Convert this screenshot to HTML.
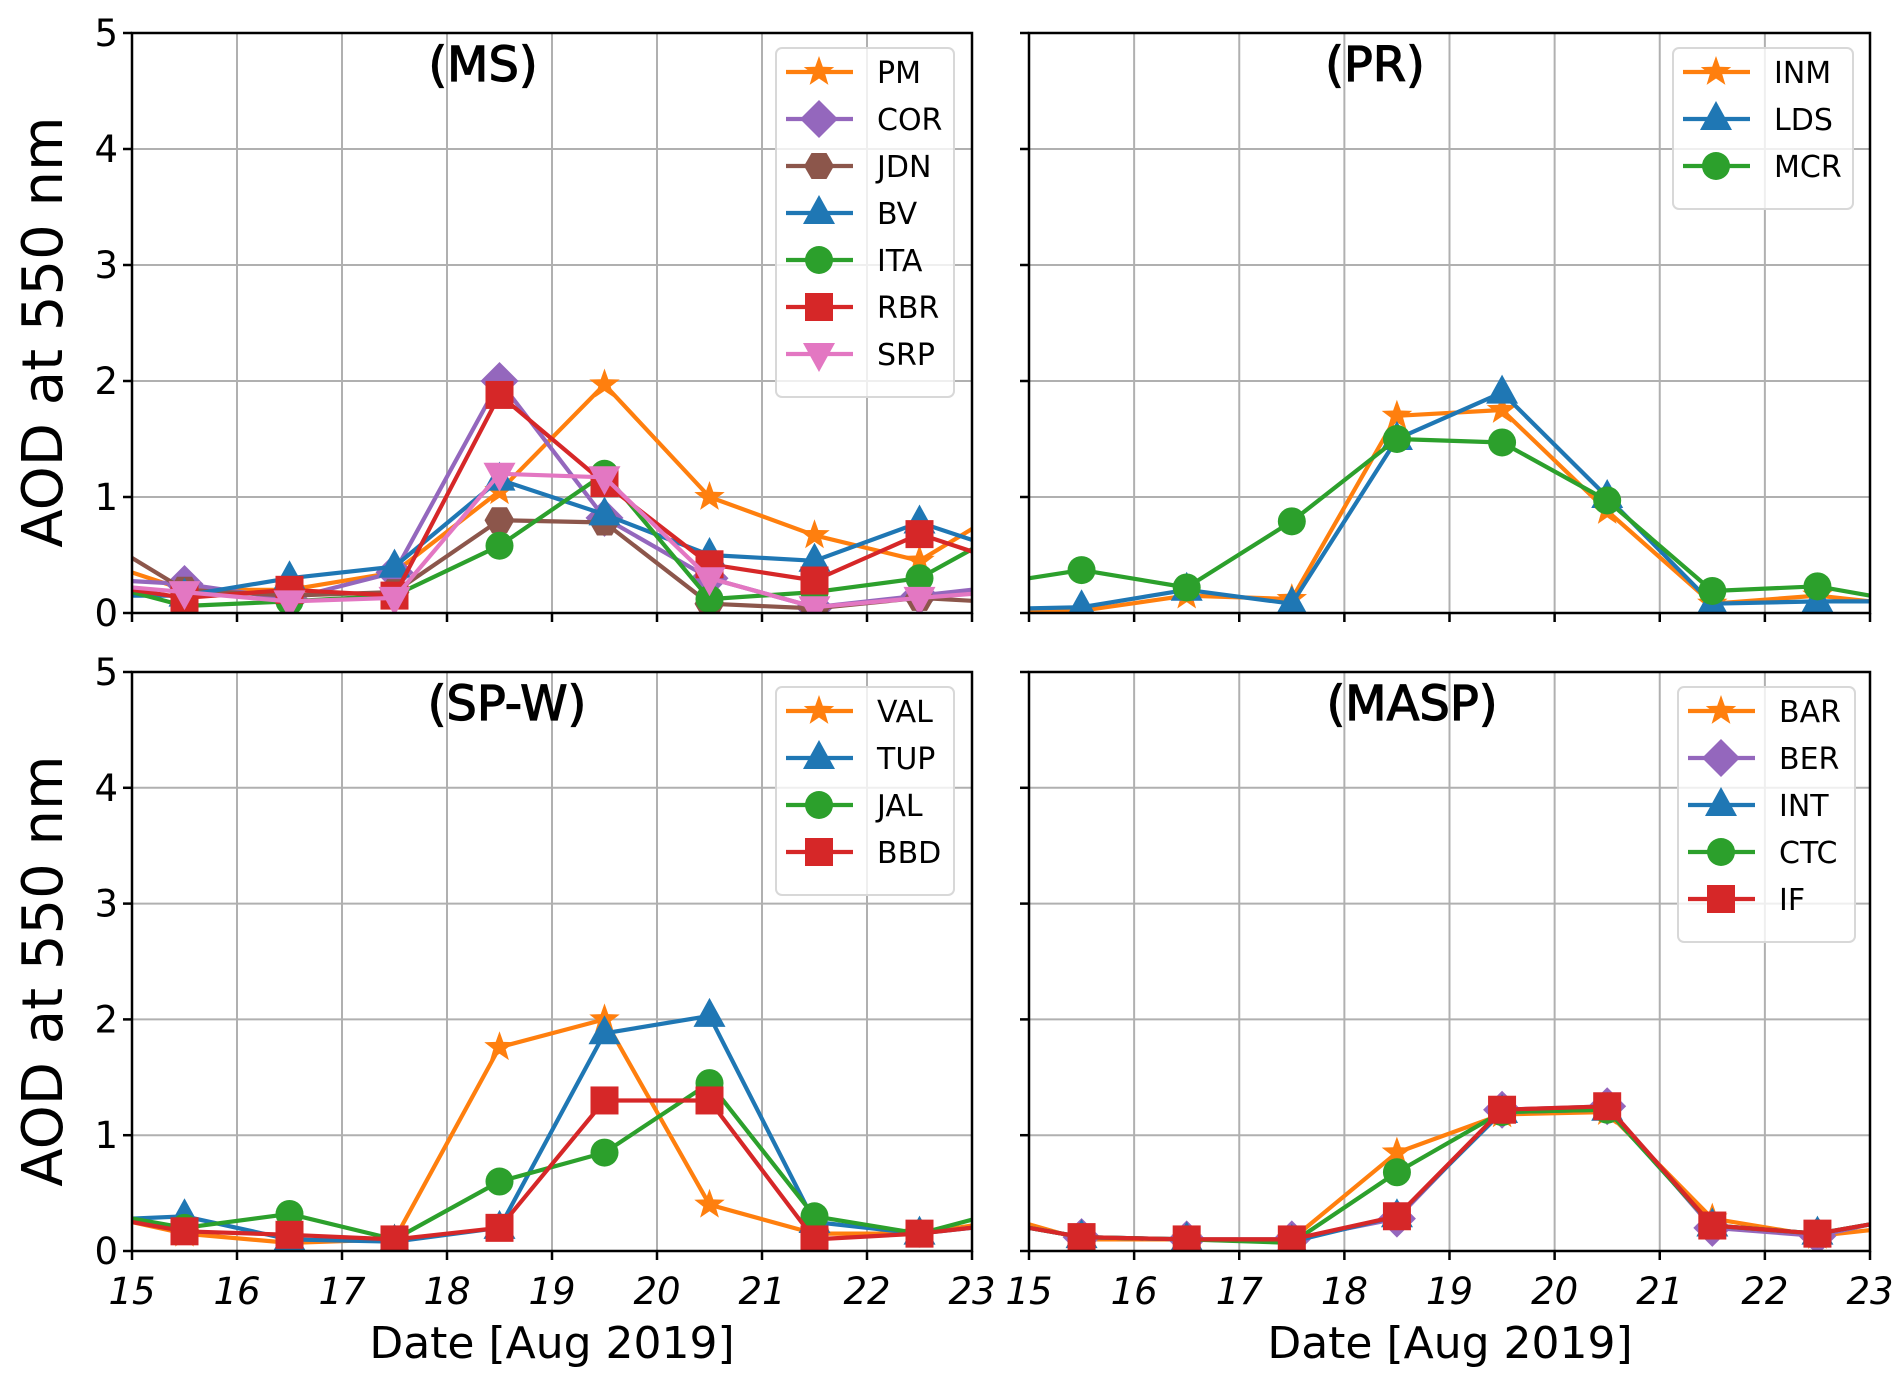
<!DOCTYPE html>
<html><head><meta charset="utf-8"><style>
body{margin:0;background:#fff}
svg text{font-family:"DejaVu Sans","Liberation Sans",sans-serif;fill:#000}
</style></head><body>
<svg id="fig" width="1892" height="1388" viewBox="0 0 1892 1388" xmlns="http://www.w3.org/2000/svg"></svg>
<script>
const days = [14.5,15.5,16.5,17.5,18.5,19.5,20.5,21.5,22.5,23.5];
const xTicks = [15,16,17,18,19,20,21,22,23];
const yTicks = [0,1,2,3,4,5];
// MS
const msPM  = [0.5,0.2,0.2,0.35,1.05,1.97,1.0,0.67,0.45,1.0];
const msCOR = [0.3,0.25,0.12,0.35,2.0,0.82,0.3,0.05,0.15,0.25];
const msJDN = [0.75,0.2,0.15,0.18,0.8,0.78,0.08,0.04,0.13,0.08];
const msBV  = [0.15,0.15,0.3,0.4,1.15,0.85,0.5,0.45,0.78,0.48];
const msITA = [0.3,0.06,0.1,0.15,0.58,1.2,0.12,0.18,0.3,0.8];
const msRBR = [0.27,0.13,0.2,0.15,1.88,1.12,0.42,0.28,0.68,0.38];
const msSRP = [0.26,0.18,0.1,0.13,1.2,1.17,0.3,0.05,0.13,0.2];
// PR
const prINM = [0.0,0.02,0.15,0.12,1.7,1.75,0.88,0.08,0.15,0.05];
const prLDS = [0.03,0.05,0.2,0.08,1.5,1.9,1.0,0.08,0.1,0.1];
const prMCR = [0.23,0.37,0.22,0.79,1.5,1.47,0.97,0.19,0.23,0.07];
// SP-W
const spVAL = [0.35,0.15,0.07,0.1,1.76,2.0,0.4,0.15,0.15,0.29];
const spTUP = [0.26,0.3,0.1,0.08,0.2,1.88,2.03,0.25,0.15,0.25];
const spJAL = [0.36,0.2,0.32,0.1,0.6,0.85,1.45,0.3,0.15,0.39];
const spBBD = [0.33,0.17,0.14,0.1,0.2,1.3,1.3,0.1,0.15,0.25];
// MASP
const maBAR = [0.36,0.1,0.1,0.1,0.85,1.18,1.2,0.28,0.13,0.23];
const maBER = [0.28,0.12,0.1,0.1,0.28,1.22,1.25,0.2,0.13,0.33];
const maINT = [0.28,0.12,0.1,0.08,0.3,1.2,1.22,0.22,0.15,0.31];
const maCTC = [0.28,0.12,0.1,0.07,0.68,1.2,1.22,0.22,0.15,0.31];
const maIF  = [0.28,0.12,0.1,0.1,0.3,1.22,1.25,0.22,0.15,0.31];

const C={orange:'#ff7f0e',blue:'#1f77b4',green:'#2ca02c',red:'#d62728',purple:'#9467bd',brown:'#8c564b',pink:'#e377c2'};
const NS='http://www.w3.org/2000/svg';
const svg=document.getElementById('fig');
function mk(tag,attrs,parent){const e=document.createElementNS(NS,tag);for(const k in attrs)e.setAttribute(k,attrs[k]);(parent||svg).appendChild(e);return e;}

function marker(g,type,cx,cy,color){
  let e;
  if(type==='star'){
    const pts=[];for(let i=0;i<10;i++){const r=i%2?6.5:16;const a=-Math.PI/2+i*Math.PI/5;pts.push((cx+r*Math.cos(a)).toFixed(1)+','+(cy+r*Math.sin(a)).toFixed(1));}
    e=mk('polygon',{points:pts.join(' '),fill:color},g);
  }else if(type==='diamond'){
    e=mk('polygon',{points:`${cx},${cy-19} ${cx+19},${cy} ${cx},${cy+19} ${cx-19},${cy}`,fill:color},g);
  }else if(type==='hex'){
    const pts=[];for(let i=0;i<6;i++){const a=i*Math.PI/3;pts.push((cx+15*Math.cos(a)).toFixed(1)+','+(cy+15*Math.sin(a)).toFixed(1));}
    e=mk('polygon',{points:pts.join(' '),fill:color},g);
  }else if(type==='tri'){
    e=mk('polygon',{points:`${cx},${cy-18} ${cx+16},${cy+11} ${cx-16},${cy+11}`,fill:color},g);
  }else if(type==='vtri'){
    e=mk('polygon',{points:`${cx},${cy+18} ${cx+16},${cy-11} ${cx-16},${cy-11}`,fill:color},g);
  }else if(type==='circle'){
    e=mk('circle',{cx:cx,cy:cy,r:14,fill:color},g);
  }else{
    e=mk('rect',{x:cx-14,y:cy-14,width:28,height:28,fill:color},g);
  }
  return e;
}

function panel(id,x0,y0,x1,y1,title,series,leg,showYLabels,showXLabels){
  const g=mk('g',{});
  
  
  const sx=d=>x0+(d-15)/8*(x1-x0);
  const sy=v=>y1-v/5*(y1-y0);
  const clip=mk('clipPath',{id:'clip-'+id},g);
  mk('rect',{x:x0,y:y0,width:x1-x0,height:y1-y0},clip);
  xTicks.forEach(t=>{
    const l=mk('line',{x1:sx(t),x2:sx(t),y1:y0,y2:y1,stroke:'#b0b0b0','stroke-width':2},g);
    
    
    mk('line',{x1:sx(t),x2:sx(t),y1:y1,y2:y1+9,stroke:'#000','stroke-width':2.5},g);
    if(showXLabels){
      const tx=mk('text',{x:sx(t),y:y1+53,'font-size':37,'text-anchor':'middle','font-style':'italic'},g);
      tx.textContent=t;
      
      
    }
  });
  yTicks.forEach(t=>{
    const l=mk('line',{x1:x0,x2:x1,y1:sy(t),y2:sy(t),stroke:'#b0b0b0','stroke-width':2},g);
    
    
    mk('line',{x1:x0-9,x2:x0,y1:sy(t),y2:sy(t),stroke:'#000','stroke-width':2.5},g);
    if(showYLabels){
      const tx=mk('text',{x:x0-14,y:sy(t)+13,'font-size':37,'text-anchor':'end'},g);
      tx.textContent=t;
      
      
    }
  });
  const dg=mk('g',{'clip-path':'url(#clip-'+id+')'},g);
  series.forEach(s=>{
    const sg=mk('g',{},dg);
    
    
    const pts=days.map((d,i)=>sx(d).toFixed(1)+','+sy(s.vals[i]).toFixed(1)).join(' ');
    mk('polyline',{points:pts,fill:'none',stroke:s.color,'stroke-width':4.2,'stroke-linejoin':'round'},sg);
    days.forEach((d,i)=>{
      const m=marker(sg,s.m,sx(d),sy(s.vals[i]),s.color);
      
      
    });
  });
  mk('rect',{x:x0,y:y0,width:x1-x0,height:y1-y0,fill:'none',stroke:'#000','stroke-width':2.5},g);
  const tt=mk('text',{x:title.x,y:y0+48,'font-size':48,'text-anchor':'middle',stroke:'#000','stroke-width':1.2},g);
  tt.textContent=title.t;
  
  
  const lg=mk('g',{},g);
  
  
  const h=series.length*47+20;
  mk('rect',{x:leg.x,y:y0+15,width:leg.w,height:h,rx:6,fill:'rgba(255,255,255,0.8)',stroke:'#d8d8d8','stroke-width':2},lg);
  series.forEach((s,i)=>{
    const cy=y0+39+i*47;
    const eg=mk('g',{},lg);
    
    
    mk('line',{x1:leg.x+10,x2:leg.x+77,y1:cy,y2:cy,stroke:s.color,'stroke-width':4.2},eg);
    marker(eg,s.m,leg.x+43,cy,s.color);
    const t=mk('text',{x:leg.x+101,y:cy+11,'font-size':30},eg);
    t.textContent=s.name;
  });
}

const L0=132,L1=972,R0=1029,R1=1870,T0=33,T1=613,B0=672,B1=1251;
panel('ms',L0,T0,L1,T1,{t:'(MS)',x:483},[
 {name:'PM',vals:msPM,color:C.orange,m:'star'},
 {name:'COR',vals:msCOR,color:C.purple,m:'diamond'},
 {name:'JDN',vals:msJDN,color:C.brown,m:'hex'},
 {name:'BV',vals:msBV,color:C.blue,m:'tri'},
 {name:'ITA',vals:msITA,color:C.green,m:'circle'},
 {name:'RBR',vals:msRBR,color:C.red,m:'square'},
 {name:'SRP',vals:msSRP,color:C.pink,m:'vtri'}],{x:776,w:178},true,false);
panel('pr',R0,T0,R1,T1,{t:'(PR)',x:1375},[
 {name:'INM',vals:prINM,color:C.orange,m:'star'},
 {name:'LDS',vals:prLDS,color:C.blue,m:'tri'},
 {name:'MCR',vals:prMCR,color:C.green,m:'circle'}],{x:1673,w:180},false,false);
panel('spw',L0,B0,L1,B1,{t:'(SP-W)',x:507},[
 {name:'VAL',vals:spVAL,color:C.orange,m:'star'},
 {name:'TUP',vals:spTUP,color:C.blue,m:'tri'},
 {name:'JAL',vals:spJAL,color:C.green,m:'circle'},
 {name:'BBD',vals:spBBD,color:C.red,m:'square'}],{x:776,w:178},true,true);
panel('masp',R0,B0,R1,B1,{t:'(MASP)',x:1412},[
 {name:'BAR',vals:maBAR,color:C.orange,m:'star'},
 {name:'BER',vals:maBER,color:C.purple,m:'diamond'},
 {name:'INT',vals:maINT,color:C.blue,m:'tri'},
 {name:'CTC',vals:maCTC,color:C.green,m:'circle'},
 {name:'IF',vals:maIF,color:C.red,m:'square'}],{x:1678,w:177},false,true);

[332,971].forEach(cy=>{
  const t=mk('text',{x:0,y:0,'font-size':56,'text-anchor':'middle',transform:`translate(62,${cy}) rotate(-90)`});
  t.textContent='AOD at 550 nm';
  
  
});
[552,1450].forEach(x=>{
  const t=mk('text',{x:x,y:1358,'font-size':44,'text-anchor':'middle'});
  t.textContent='Date [Aug 2019]';
  
  
});
</script>
</body></html>
